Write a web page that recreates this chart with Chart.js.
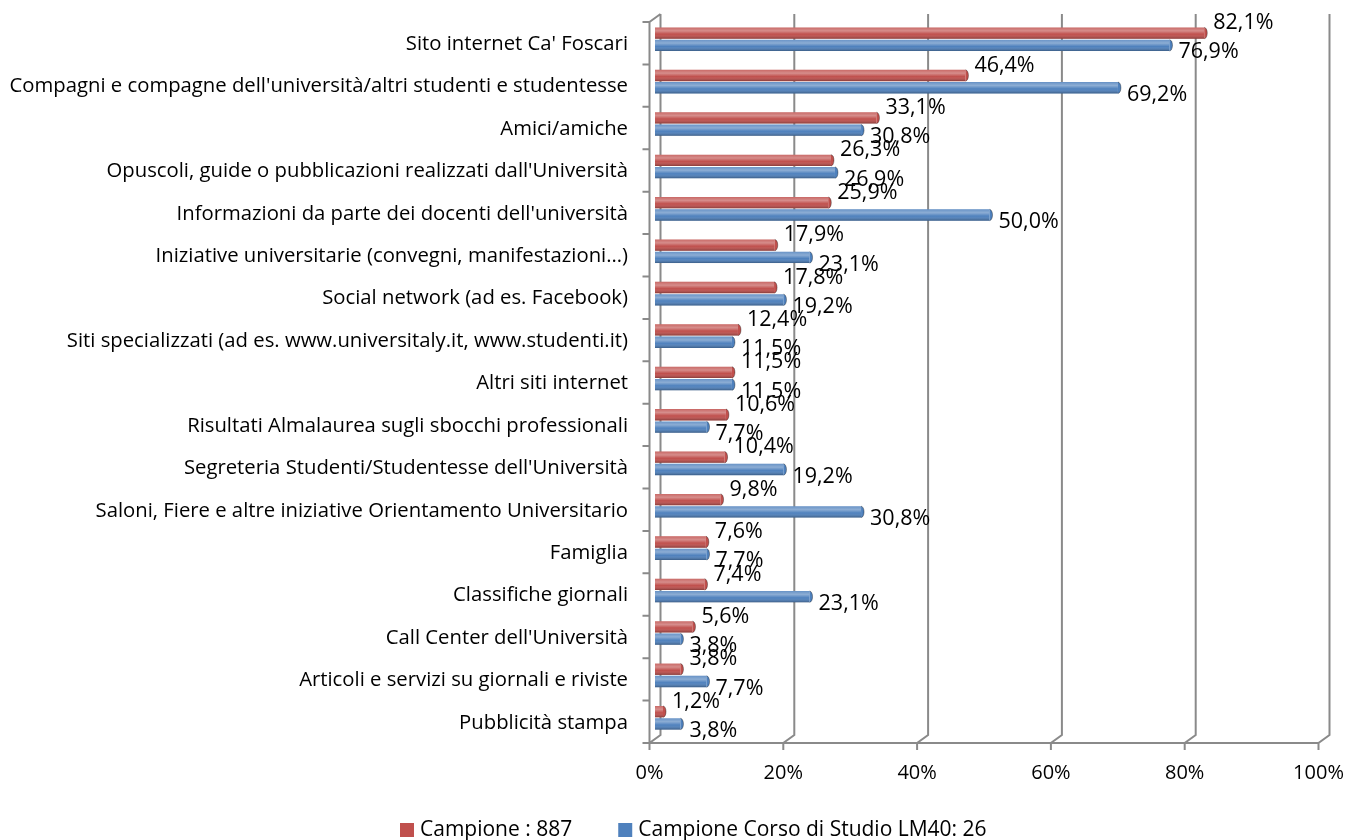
<!DOCTYPE html>
<html>
<head>
<meta charset="utf-8">
<script src="https://cdn.jsdelivr.net/npm/chart.js@4.4.1/dist/chart.umd.min.js"></script>
<style>
  html, body { margin: 0; padding: 0; background: #fff; }
  #wrap { width: 1347px; height: 840px; }
</style>
</head>
<body>
<div id="wrap"><canvas id="chart" width="1347" height="840"></canvas></div>
<script>
// Data
const categorie = [
  "Sito internet Ca' Foscari",
  "Compagni e compagne dell'università/altri studenti e studentesse",
  "Amici/amiche",
  "Opuscoli, guide o pubblicazioni realizzati dall'Università",
  "Informazioni da parte dei docenti dell'università",
  "Iniziative universitarie (convegni, manifestazioni…)",
  "Social network (ad es. Facebook)",
  "Siti specializzati (ad es. www.universitaly.it, www.studenti.it)",
  "Altri siti internet",
  "Risultati Almalaurea sugli sbocchi professionali",
  "Segreteria Studenti/Studentesse dell'Università",
  "Saloni, Fiere e altre iniziative Orientamento Universitario",
  "Famiglia",
  "Classifiche giornali",
  "Call Center dell'Università",
  "Articoli e servizi su giornali e riviste",
  "Pubblicità stampa"
];
const campione = [82.1, 46.4, 33.1, 26.3, 25.9, 17.9, 17.8, 12.4, 11.5, 10.6, 10.4, 9.8, 7.6, 7.4, 5.6, 3.8, 1.2];
const campioneLM40 = [76.9, 69.2, 30.8, 26.9, 50.0, 23.1, 19.2, 11.5, 11.5, 7.7, 19.2, 30.8, 7.7, 23.1, 3.8, 7.7, 3.8];
const serieNomi = ['Campione : 887', 'Campione Corso di Studio LM40: 26'];
const xTicks = [0, 20, 40, 60, 80, 100];

const FONT = '"Open Sans"';
const red = '#C0504D';
const blue = '#4F81BD';
const gridColor = '#8a8a8a';

// Shift between the bars (middle depth) and the front / back planes
const DX = 5.5;
const DY = 4;

function fmt(v) {
  return v.toFixed(1).replace('.', ',') + '%';
}

// Fake 3D box: back wall gridlines, floor slants, front axes
const frame3d = {
  id: 'frame3d',
  beforeDatasetsDraw(chart) {
    const ctx = chart.ctx;
    const x = chart.scales.x;
    const area = chart.chartArea;
    const front = v => x.getPixelForValue(v) - DX;
    const back = v => x.getPixelForValue(v) + DX;
    const fTop = area.top + DY, fBot = area.bottom + DY;
    const bTop = area.top - DY, bBot = area.bottom - DY;

    ctx.save();
    ctx.strokeStyle = gridColor;
    ctx.lineWidth = 2;
    ctx.beginPath();
    xTicks.forEach(v => {
      ctx.moveTo(back(v), bTop);
      ctx.lineTo(back(v), bBot);
      ctx.lineTo(front(v), fBot);
      ctx.lineTo(front(v), fBot + 7);
    });
    // front bottom line
    ctx.moveTo(front(0) - 7, fBot);
    ctx.lineTo(front(100), fBot);
    // left front axis + top slant
    ctx.moveTo(front(0), fBot + 7);
    ctx.lineTo(front(0), fTop);
    ctx.lineTo(back(0), bTop);
    // category ticks
    const h = (fBot - fTop) / categorie.length;
    for (let i = 0; i <= categorie.length; i++) {
      ctx.moveTo(front(0) - 7, fTop + i * h);
      ctx.lineTo(front(0), fTop + i * h);
    }
    ctx.stroke();
    ctx.restore();
  },
  afterDatasetsDraw(chart) {
    const ctx = chart.ctx;
    ctx.save();
    chart.data.datasets.forEach((ds, di) => {
      const meta = chart.getDatasetMeta(di);
      meta.data.forEach((bar, i) => {
        const top = bar.y - bar.height / 2;
        const left = Math.min(bar.base, bar.x);
        const w = Math.abs(bar.x - bar.base);
        // cylinder shading
        const g = ctx.createLinearGradient(0, top, 0, top + bar.height);
        g.addColorStop(0, 'rgba(255,255,255,0.15)');
        g.addColorStop(0.3, 'rgba(255,255,255,0.35)');
        g.addColorStop(0.6, 'rgba(255,255,255,0)');
        g.addColorStop(1, 'rgba(0,0,0,0.3)');
        ctx.fillStyle = g;
        ctx.fillRect(left, top, w, bar.height);
        // rounded end cap
        ctx.beginPath();
        ctx.ellipse(bar.x, bar.y, 3, bar.height / 2, 0, -Math.PI / 2, Math.PI / 2);
        ctx.fillStyle = ds.backgroundColor;
        ctx.fill();
        ctx.strokeStyle = 'rgba(0,0,0,0.35)';
        ctx.lineWidth = 1;
        ctx.stroke();

        // value label
        ctx.fillStyle = '#000';
        ctx.font = '21.5px ' + FONT;
        ctx.textAlign = 'left';
        ctx.textBaseline = 'middle';
        const dy = di === 0 ? -10 : 7;
        ctx.fillText(fmt(ds.data[i]), bar.x + 9, bar.y + dy);
      });
    });
    ctx.restore();
  },
  afterDraw(chart) {
    // legend
    const ctx = chart.ctx;
    ctx.save();
    ctx.font = '21px ' + FONT;
    ctx.textBaseline = 'middle';
    ctx.textAlign = 'left';
    const box = 14, gap = 6, spacing = 46;
    const colors = [red, blue];
    let lx = 400;
    const ly = 830;
    serieNomi.forEach((t, i) => {
      ctx.fillStyle = colors[i];
      ctx.fillRect(lx, ly - box / 2, box, box);
      ctx.fillStyle = '#000';
      ctx.fillText(t, lx + box + gap, ly);
      lx += box + gap + ctx.measureText(t).width + spacing;
    });
    ctx.restore();
  }
};

new Chart(document.getElementById('chart'), {
  type: 'bar',
  data: {
    labels: categorie,
    datasets: [
      {
        label: serieNomi[0],
        data: campione,
        backgroundColor: red,
        categoryPercentage: 0.58,
        barPercentage: 0.92
      },
      {
        label: serieNomi[1],
        data: campioneLM40,
        backgroundColor: blue,
        categoryPercentage: 0.58,
        barPercentage: 0.92
      }
    ]
  },
  options: {
    indexAxis: 'y',
    responsive: false,
    animation: false,
    layout: {
      padding: { top: 18, right: 23, bottom: 41, left: 0 }
    },
    plugins: {
      legend: { display: false },
      tooltip: { enabled: false }
    },
    scales: {
      x: {
        min: 0,
        max: 100,
        afterBuildTicks: scale => {
          scale.ticks = xTicks.map(v => ({ value: v }));
        },
        afterFit: scale => {
          scale.height = 60;
          scale.paddingLeft = 0;
          scale.paddingRight = 0;
        },
        grid: { display: false, drawTicks: false },
        border: { display: false },
        ticks: {
          color: '#000',
          font: { family: FONT, size: 20 },
          padding: 22,
          labelOffset: -DX,
          maxRotation: 0,
          callback: v => v + '%'
        }
      },
      y: {
        afterFit: scale => {
          scale.width = 655;
          scale.paddingTop = 0;
          scale.paddingBottom = 0;
        },
        grid: { display: false, drawTicks: false },
        border: { display: false },
        ticks: {
          color: '#000',
          font: { family: FONT, size: 20.3 },
          padding: 27,
          labelOffset: DY + 1,
          autoSkip: false
        }
      }
    }
  },
  plugins: [frame3d]
});
</script>
</body>
</html>
